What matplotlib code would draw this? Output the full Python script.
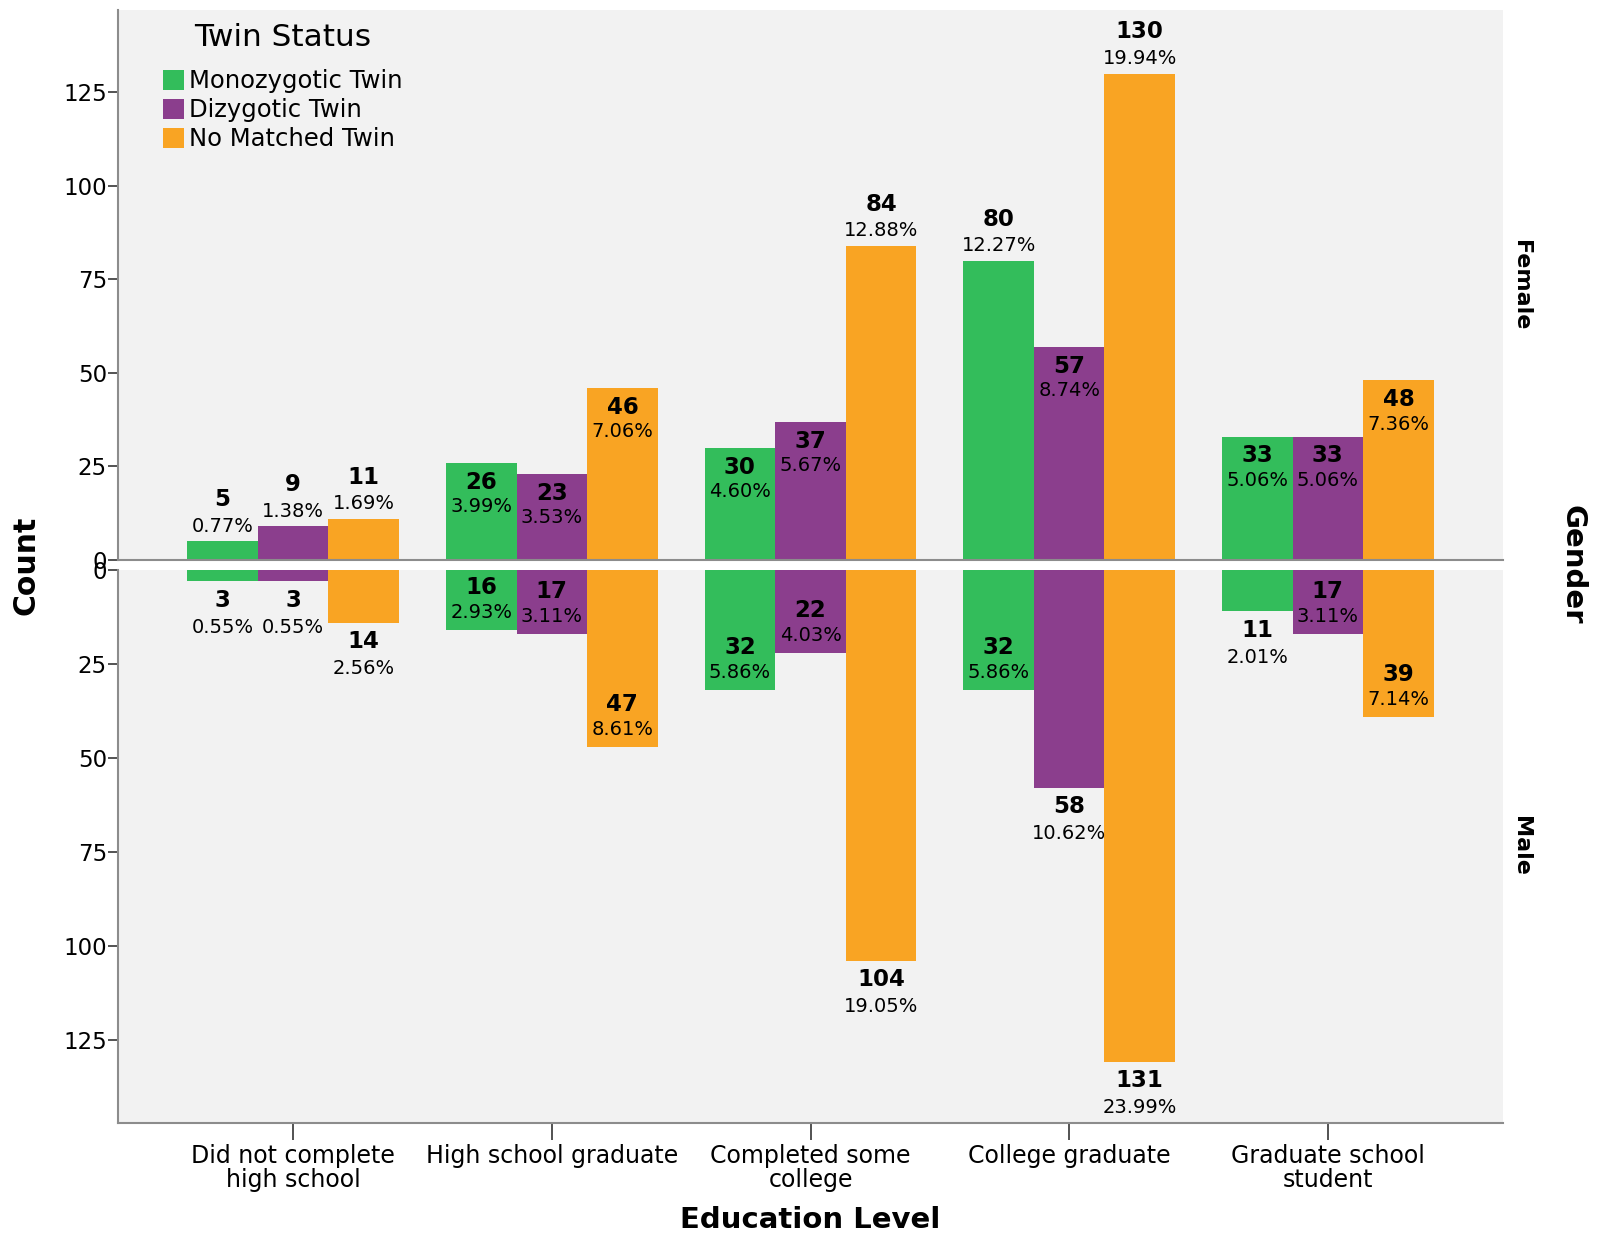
import matplotlib
matplotlib.use("Agg")
import matplotlib.pyplot as plt
import numpy as np
from matplotlib.patches import Patch

categories = ["Did not complete\nhigh school", "High school graduate",
              "Completed some\ncollege", "College graduate",
              "Graduate school\nstudent"]
series = ["Monozygotic Twin", "Dizygotic Twin", "No Matched Twin"]

female_mz = [5, 26, 30, 80, 33]
female_dz = [9, 23, 37, 57, 33]
female_nm = [11, 46, 84, 130, 48]
female_mz_pct = [0.77, 3.99, 4.60, 12.27, 5.06]
female_dz_pct = [1.38, 3.53, 5.67, 8.74, 5.06]
female_nm_pct = [1.69, 7.06, 12.88, 19.94, 7.36]

male_mz = [3, 16, 32, 32, 11]
male_dz = [3, 17, 22, 58, 17]
male_nm = [14, 47, 104, 131, 39]
male_mz_pct = [0.55, 2.93, 5.86, 5.86, 2.01]
male_dz_pct = [0.55, 3.11, 4.03, 10.62, 3.11]
male_nm_pct = [2.56, 8.61, 19.05, 23.99, 7.14]

yticks = [0, 25, 50, 75, 100, 125]

colors = ["#33BD5B", "#8B3E8D", "#F9A423"]
bg = "#F2F2F2"
spine_c = "#8C8C8C"

W, H = 1597, 1239
fig = plt.figure(figsize=(W / 100, H / 100), dpi=100)
plt.rcParams['font.family'] = ['DejaVu Sans']

def fx(px):
    return px / W

def fy(py):
    return 1 - py / H

L, R = 118, 1503
ax_top = fig.add_axes([fx(L), fy(560), fx(R) - fx(L), fy(10) - fy(560)])
ax_bot = fig.add_axes([fx(L), fy(1123), fx(R) - fx(L), fy(570) - fy(1123)])

x = np.arange(len(categories))
bw = 0.273
offsets = [-bw, 0, bw]

def setup(ax, top):
    ax.set_facecolor(bg)
    ax.set_xlim(-0.677, 4.677)
    ax.set_yticks(yticks)
    ax.tick_params(axis='y', direction='out', length=7, width=1.3, color='#444444',
                   labelsize=16.5, pad=1)
    for s in ['top', 'right']:
        ax.spines[s].set_visible(False)
    ax.spines['left'].set_color(spine_c)
    ax.spines['left'].set_linewidth(1.5)
    ax.spines['bottom'].set_color(spine_c)
    ax.spines['bottom'].set_linewidth(1.5)
    if top:
        ax.set_ylim(0, 147)
        ax.set_xticks([])
    else:
        ax.set_ylim(147.2, 0)
        ax.set_xticks(x)
        ax.set_xticklabels(categories, fontsize=17, linespacing=1.0)
        ax.tick_params(axis='x', direction='out', length=12, width=1.3, color='#444444', pad=3)

setup(ax_top, True)
setup(ax_bot, False)

fvals = [female_mz, female_dz, female_nm]
fpcts = [female_mz_pct, female_dz_pct, female_nm_pct]
mvals = [male_mz, male_dz, male_nm]
mpcts = [male_mz_pct, male_dz_pct, male_nm_pct]

def inside(v):
    return 15 <= v <= 57

CF, PF = 16.5, 14
for i in range(3):
    ax_top.bar(x + offsets[i], fvals[i], width=bw, color=colors[i], edgecolor='none', zorder=2)
    ax_bot.bar(x + offsets[i], mvals[i], width=bw, color=colors[i], edgecolor='none', zorder=2)
    for j in range(len(categories)):
        xv = x[j] + offsets[i]
        v = fvals[i][j]
        p = fpcts[i][j]
        if inside(v):
            oc, op = -14, -31.5
        else:
            oc, op = 30, 11
        ax_top.annotate(f"{v}", (xv, v), xytext=(0, oc), textcoords='offset points',
                        ha='center', va='center', fontsize=CF, fontweight='bold', zorder=3)
        ax_top.annotate(f"{p:.2f}%", (xv, v), xytext=(0, op), textcoords='offset points',
                        ha='center', va='center', fontsize=PF, zorder=3)
        v = mvals[i][j]
        p = mpcts[i][j]
        if inside(v):
            oc, op = 30.5, 12.5
        else:
            oc, op = -13.5, -33
        ax_bot.annotate(f"{v}", (xv, v), xytext=(0, oc), textcoords='offset points',
                        ha='center', va='center', fontsize=CF, fontweight='bold', zorder=3)
        ax_bot.annotate(f"{p:.2f}%", (xv, v), xytext=(0, op), textcoords='offset points',
                        ha='center', va='center', fontsize=PF, zorder=3)

handles = [Patch(facecolor=c, edgecolor='none') for c in colors]
leg = ax_top.legend(handles, series, loc='upper left',
                    bbox_to_anchor=(0.0325, 0.892), frameon=False, fontsize=17.5,
                    handlelength=0.85, handleheight=0.9,
                    handletextpad=0.2, labelspacing=0.2, borderaxespad=0.0,
                    borderpad=0.0)
fig.text(fx(283), fy(37), "Twin Status", ha='center', va='center', fontsize=22.5)

fig.text(fx(26), fy(565), "Count", rotation=90, ha='center', va='center',
         fontsize=21.5, fontweight='bold')
fig.text(fx(810), fy(1220), "Education Level", ha='center', va='center',
         fontsize=21, fontweight='bold')
fig.text(fx(1573), fy(565), "Gender", rotation=-90, ha='center', va='center',
         fontsize=21, fontweight='bold')
fig.text(fx(1521), fy(285), "Female", rotation=-90, ha='center', va='center',
         fontsize=16, fontweight='bold')
fig.text(fx(1521), fy(846), "Male", rotation=-90, ha='center', va='center',
         fontsize=16, fontweight='bold')

fig.savefig("out.png", dpi=100, facecolor='white')
